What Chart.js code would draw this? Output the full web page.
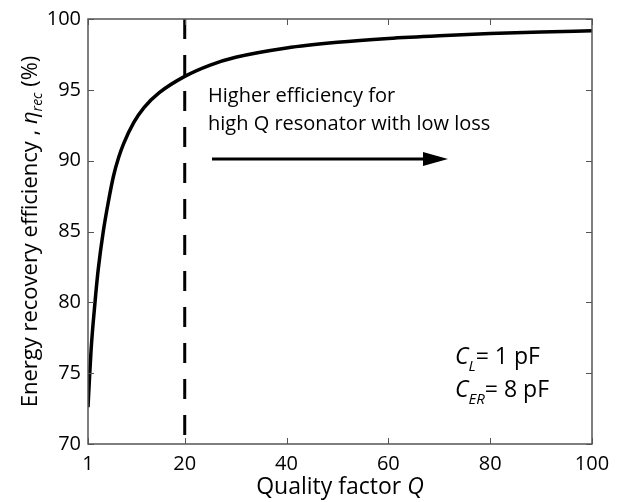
<!DOCTYPE html>
<html>
<head>
<meta charset="utf-8">
<script src="https://cdn.jsdelivr.net/npm/chart.js@4.4.1/dist/chart.umd.min.js"></script>
<style>
  html, body { margin: 0; padding: 0; background: #fff; }
  #wrap { width: 625px; height: 502px; }
</style>
</head>
<body>
<div id="wrap"><canvas id="grafico" width="625" height="502"></canvas></div>
<script>
// data
const qValues = [1, 1.3, 1.6, 2, 2.5, 3, 4, 5, 6, 7, 8, 10, 12, 15, 20, 25, 30, 40, 50, 60, 70, 80, 90, 100];
const effValues = [72.6, 74.7, 76.6, 78.5, 80.5, 82.3, 85.0, 87.1, 88.9, 90.2, 91.2, 92.7, 93.75, 94.8, 95.95, 96.75, 97.3, 97.96, 98.36, 98.63, 98.82, 98.97, 99.08, 99.17];
const markerQ = [20, 20];
const markerEff = [100, 70];
const xTickValues = [1, 20, 40, 60, 80, 100];
const yTickValues = [70, 75, 80, 85, 90, 95, 100];

const fontFamily = "'Open Sans', 'Noto Sans', sans-serif";

// draws a line of text made of several runs (italic, subscript)
function drawRuns(ctx, runs, x, y, align) {
    let total = 0;
    runs.forEach((r) => {
        ctx.font = r.font;
        total += ctx.measureText(r.text).width;
    });
    let cx = align === "center" ? x - total / 2 : x;
    runs.forEach((r) => {
        ctx.font = r.font;
        ctx.fillText(r.text, cx, y + (r.dy || 0));
        cx += ctx.measureText(r.text).width;
    });
}

const decor = {
    id: "decor",
    afterDraw(chart) {
        const ctx = chart.ctx;
        const a = chart.chartArea;
        const xs = chart.scales.x;
        const ys = chart.scales.y;
        ctx.save();

        // box
        ctx.strokeStyle = "#555";
        ctx.lineWidth = 1.5;
        ctx.strokeRect(a.left, a.top, a.right - a.left, a.bottom - a.top);

        // inward ticks on all sides
        ctx.lineWidth = 1;
        ctx.beginPath();
        xTickValues.forEach((v) => {
            const px = Math.round(xs.getPixelForValue(v)) + 0.5;
            ctx.moveTo(px, a.bottom); ctx.lineTo(px, a.bottom - 6);
            ctx.moveTo(px, a.top); ctx.lineTo(px, a.top + 6);
        });
        yTickValues.forEach((v) => {
            const py = Math.round(ys.getPixelForValue(v)) + 0.5;
            ctx.moveTo(a.left, py); ctx.lineTo(a.left + 6, py);
            ctx.moveTo(a.right, py); ctx.lineTo(a.right - 6, py);
        });
        ctx.stroke();

        ctx.fillStyle = "#000";
        ctx.textBaseline = "alphabetic";
        ctx.textAlign = "left";

        // x title
        drawRuns(ctx, [
            { text: "Quality factor ", font: "23px " + fontFamily },
            { text: "Q", font: "italic 23px " + fontFamily },
        ], (a.left + a.right) / 2, 494, "center");

        // y title
        ctx.save();
        ctx.translate(37, (a.top + a.bottom) / 2);
        ctx.rotate(-Math.PI / 2);
        drawRuns(ctx, [
            { text: "Energy recovery efficiency , ", font: "22px " + fontFamily },
            { text: "η", font: "italic 22px " + fontFamily },
            { text: "rec", font: "italic 14px " + fontFamily, dy: 5 },
            { text: " (%)", font: "22px " + fontFamily },
        ], 0, 0, "center");
        ctx.restore();

        // annotation
        ctx.font = "20px " + fontFamily;
        ctx.fillText("Higher efficiency for", 208, 102);
        ctx.fillText("high Q resonator with low loss", 208, 130);

        // arrow
        const ay = 159;
        const ax0 = 212, ax1 = 448;
        ctx.lineWidth = 3;
        ctx.strokeStyle = "#000";
        ctx.beginPath();
        ctx.moveTo(ax0, ay);
        ctx.lineTo(ax1 - 20, ay);
        ctx.stroke();
        ctx.beginPath();
        ctx.moveTo(ax1, ay);
        ctx.lineTo(ax1 - 25, ay - 7);
        ctx.lineTo(ax1 - 25, ay + 7);
        ctx.closePath();
        ctx.fill();

        // capacitances
        drawRuns(ctx, [
            { text: "C", font: "italic 23px " + fontFamily },
            { text: "L", font: "italic 15px " + fontFamily, dy: 7 },
            { text: "= 1 pF", font: "23px " + fontFamily },
        ], 455, 364, "left");
        drawRuns(ctx, [
            { text: "C", font: "italic 23px " + fontFamily },
            { text: "ER", font: "italic 15px " + fontFamily, dy: 7 },
            { text: "= 8 pF", font: "23px " + fontFamily },
        ], 455, 397, "left");

        ctx.restore();
    },
};

const tickFont = { size: 20, family: fontFamily };

new Chart(document.getElementById("grafico"), {
    type: "line",
    data: {
        datasets: [
            {
                data: qValues.map((q, i) => ({ x: q, y: effValues[i] })),
                borderColor: "#000",
                borderWidth: 3.5,
                pointRadius: 0,
                cubicInterpolationMode: "monotone",
                fill: false,
            },
            {
                data: markerQ.map((q, i) => ({ x: q, y: markerEff[i] })),
                borderColor: "#000",
                borderWidth: 3,
                borderDash: [20, 16],
                pointRadius: 0,
                fill: false,
            },
        ],
    },
    options: {
        responsive: false,
        animation: false,
        devicePixelRatio: 1,
        layout: { padding: { top: 16, right: 33, left: 0, bottom: 0 } },
        plugins: {
            legend: { display: false },
            tooltip: { enabled: false },
        },
        scales: {
            x: {
                type: "linear",
                min: 1,
                max: 100,
                afterBuildTicks: (s) => { s.ticks = xTickValues.map((v) => ({ value: v })); },
                afterFit: (s) => { s.height = 58; },
                grid: { display: false, drawTicks: false },
                border: { display: false },
                ticks: { font: tickFont, color: "#000", padding: 8, maxRotation: 0, autoSkip: false },
            },
            y: {
                type: "linear",
                min: 70,
                max: 100,
                afterBuildTicks: (s) => { s.ticks = yTickValues.map((v) => ({ value: v })); },
                afterFit: (s) => { s.width = 88; },
                grid: { display: false, drawTicks: false },
                border: { display: false },
                ticks: { font: tickFont, color: "#000", padding: 7 },
            },
        },
    },
    plugins: [decor],
});
</script>
</body>
</html>
